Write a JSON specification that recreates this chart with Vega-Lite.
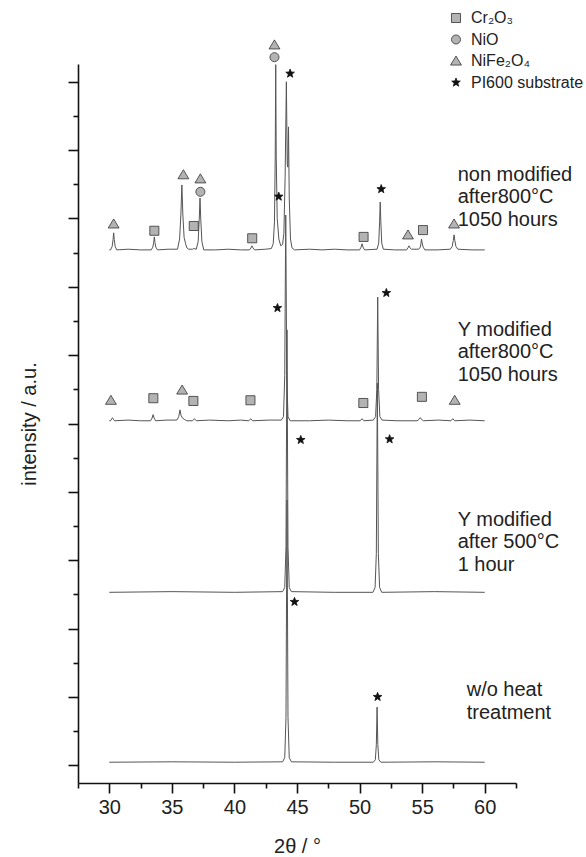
{
  "$schema": "https://vega.github.io/schema/vega-lite/v6.json",
  "width": 438,
  "height": 719,
  "autosize": {"type": "none"},
  "padding": {"left": 78, "top": 64, "right": 70, "bottom": 74},
  "background": "white",
  "config": {
    "view": {"stroke": null},
    "font": "Liberation Sans",
    "axis": {
      "domainColor": "#111", "domainWidth": 1.6, "tickColor": "#111", "tickWidth": 1.6,
      "grid": false, "labelFont": "Liberation Sans", "titleFont": "Liberation Sans",
      "labelFontSize": 20, "titleFontSize": 20, "titleFontWeight": "normal",
      "labelColor": "#222", "titleColor": "#222"
    }
  },
  "datasets": {
    "traces": [
      {"s":"a","x":30.0,"y":7.54},{"s":"a","x":30.1,"y":7.54},{"s":"a","x":30.23,"y":7.59},{"s":"a","x":30.3,"y":7.69},{"s":"a","x":30.35,"y":7.79},{"s":"a","x":30.4,"y":7.69},{"s":"a","x":30.47,"y":7.59},{"s":"a","x":30.6,"y":7.54},
      {"s":"a","x":31.5,"y":7.55},{"s":"a","x":32.5,"y":7.54},
      {"s":"a","x":33.35,"y":7.54},{"s":"a","x":33.48,"y":7.58},{"s":"a","x":33.55,"y":7.65},{"s":"a","x":33.6,"y":7.73},{"s":"a","x":33.65,"y":7.65},{"s":"a","x":33.72,"y":7.58},{"s":"a","x":33.85,"y":7.54},
      {"s":"a","x":34.7,"y":7.55},
      {"s":"a","x":35.45,"y":7.55},{"s":"a","x":35.62,"y":7.7},{"s":"a","x":35.72,"y":8.05},{"s":"a","x":35.8,"y":8.49},{"s":"a","x":35.88,"y":8.05},{"s":"a","x":35.98,"y":7.72},{"s":"a","x":36.1,"y":7.63},{"s":"a","x":36.2,"y":7.57},{"s":"a","x":36.35,"y":7.55},
      {"s":"a","x":36.65,"y":7.55},{"s":"a","x":36.75,"y":7.56},{"s":"a","x":36.95,"y":7.55},{"s":"a","x":37.1,"y":7.66},{"s":"a","x":37.19,"y":7.99},{"s":"a","x":37.25,"y":8.3},{"s":"a","x":37.31,"y":7.99},{"s":"a","x":37.4,"y":7.66},{"s":"a","x":37.55,"y":7.54},
      {"s":"a","x":38.5,"y":7.54},{"s":"a","x":39.5,"y":7.55},{"s":"a","x":40.5,"y":7.54},
      {"s":"a","x":41.2,"y":7.54},{"s":"a","x":41.32,"y":7.57},{"s":"a","x":41.4,"y":7.6},{"s":"a","x":41.48,"y":7.57},{"s":"a","x":41.6,"y":7.54},
      {"s":"a","x":42.5,"y":7.55},{"s":"a","x":42.95,"y":7.56},{"s":"a","x":43.1,"y":7.63},{"s":"a","x":43.2,"y":7.95},{"s":"a","x":43.26,"y":8.9},{"s":"a","x":43.3,"y":10.25},{"s":"a","x":43.34,"y":8.9},{"s":"a","x":43.42,"y":8.0},{"s":"a","x":43.55,"y":7.7},{"s":"a","x":43.7,"y":7.6},{"s":"a","x":43.85,"y":7.62},{"s":"a","x":43.95,"y":7.78},{"s":"a","x":44.05,"y":8.6},{"s":"a","x":44.15,"y":10.0},{"s":"a","x":44.22,"y":8.8},{"s":"a","x":44.27,"y":8.75},{"s":"a","x":44.32,"y":9.34},{"s":"a","x":44.38,"y":8.3},{"s":"a","x":44.48,"y":7.7},{"s":"a","x":44.6,"y":7.57},{"s":"a","x":44.8,"y":7.54},
      {"s":"a","x":46,"y":7.55},{"s":"a","x":47,"y":7.54},{"s":"a","x":48,"y":7.55},{"s":"a","x":49,"y":7.54},
      {"s":"a","x":50.0,"y":7.54},{"s":"a","x":50.12,"y":7.58},{"s":"a","x":50.2,"y":7.63},{"s":"a","x":50.28,"y":7.58},{"s":"a","x":50.4,"y":7.54},
      {"s":"a","x":51.4,"y":7.55},{"s":"a","x":51.53,"y":7.64},{"s":"a","x":51.6,"y":7.95},{"s":"a","x":51.65,"y":8.24},{"s":"a","x":51.7,"y":7.95},{"s":"a","x":51.77,"y":7.64},{"s":"a","x":51.9,"y":7.55},
      {"s":"a","x":52.8,"y":7.54},
      {"s":"a","x":53.75,"y":7.54},{"s":"a","x":53.87,"y":7.57},{"s":"a","x":53.95,"y":7.6},{"s":"a","x":54.03,"y":7.57},{"s":"a","x":54.15,"y":7.55},
      {"s":"a","x":54.72,"y":7.55},{"s":"a","x":54.85,"y":7.58},{"s":"a","x":54.91,"y":7.64},{"s":"a","x":54.95,"y":7.7},{"s":"a","x":55.0,"y":7.64},{"s":"a","x":55.08,"y":7.58},{"s":"a","x":55.22,"y":7.54},
      {"s":"a","x":56.2,"y":7.54},
      {"s":"a","x":57.25,"y":7.55},{"s":"a","x":57.4,"y":7.59},{"s":"a","x":57.49,"y":7.68},{"s":"a","x":57.55,"y":7.76},{"s":"a","x":57.61,"y":7.68},{"s":"a","x":57.7,"y":7.59},{"s":"a","x":57.85,"y":7.55},
      {"s":"a","x":59,"y":7.54},{"s":"a","x":60,"y":7.54},

      {"s":"b","x":30.0,"y":5.04},{"s":"b","x":30.1,"y":5.04},{"s":"b","x":30.2,"y":5.07},{"s":"b","x":30.25,"y":5.085},{"s":"b","x":30.3,"y":5.07},{"s":"b","x":30.42,"y":5.04},
      {"s":"b","x":31.5,"y":5.05},{"s":"b","x":32.5,"y":5.04},
      {"s":"b","x":33.3,"y":5.04},{"s":"b","x":33.42,"y":5.08},{"s":"b","x":33.5,"y":5.13},{"s":"b","x":33.58,"y":5.08},{"s":"b","x":33.7,"y":5.04},
      {"s":"b","x":34.6,"y":5.05},
      {"s":"b","x":35.4,"y":5.05},{"s":"b","x":35.55,"y":5.1},{"s":"b","x":35.65,"y":5.2},{"s":"b","x":35.73,"y":5.12},{"s":"b","x":35.85,"y":5.08},{"s":"b","x":36.0,"y":5.06},{"s":"b","x":36.2,"y":5.04},
      {"s":"b","x":36.65,"y":5.04},{"s":"b","x":36.8,"y":5.07},{"s":"b","x":36.95,"y":5.04},
      {"s":"b","x":38,"y":5.05},{"s":"b","x":39.5,"y":5.04},{"s":"b","x":40.5,"y":5.05},
      {"s":"b","x":41.15,"y":5.04},{"s":"b","x":41.3,"y":5.07},{"s":"b","x":41.45,"y":5.04},
      {"s":"b","x":42.8,"y":5.05},
      {"s":"b","x":43.75,"y":5.05},{"s":"b","x":43.92,"y":5.1},{"s":"b","x":44.02,"y":5.7},{"s":"b","x":44.1,"y":8.05},{"s":"b","x":44.18,"y":5.7},{"s":"b","x":44.28,"y":5.1},{"s":"b","x":44.45,"y":5.04},
      {"s":"b","x":46,"y":5.04},{"s":"b","x":47.5,"y":5.05},{"s":"b","x":49,"y":5.04},
      {"s":"b","x":50.05,"y":5.04},{"s":"b","x":50.2,"y":5.07},{"s":"b","x":50.35,"y":5.04},
      {"s":"b","x":51.1,"y":5.05},{"s":"b","x":51.28,"y":5.1},{"s":"b","x":51.38,"y":5.5},{"s":"b","x":51.45,"y":6.85},{"s":"b","x":51.52,"y":5.5},{"s":"b","x":51.62,"y":5.1},{"s":"b","x":51.8,"y":5.05},
      {"s":"b","x":53,"y":5.04},
      {"s":"b","x":54.6,"y":5.04},{"s":"b","x":54.75,"y":5.06},{"s":"b","x":54.85,"y":5.085},{"s":"b","x":54.95,"y":5.06},{"s":"b","x":55.1,"y":5.04},
      {"s":"b","x":56.3,"y":5.05},
      {"s":"b","x":57.3,"y":5.04},{"s":"b","x":57.45,"y":5.07},{"s":"b","x":57.6,"y":5.04},
      {"s":"b","x":58.8,"y":5.05},{"s":"b","x":60,"y":5.04},

      {"s":"c","x":30,"y":2.53},{"s":"c","x":35,"y":2.54},{"s":"c","x":40,"y":2.53},{"s":"c","x":43.85,"y":2.54},{"s":"c","x":44.02,"y":2.6},{"s":"c","x":44.12,"y":3.2},{"s":"c","x":44.2,"y":6.37},{"s":"c","x":44.28,"y":3.2},{"s":"c","x":44.38,"y":2.6},{"s":"c","x":44.55,"y":2.54},{"s":"c","x":48,"y":2.53},{"s":"c","x":51.07,"y":2.53},{"s":"c","x":51.24,"y":2.6},{"s":"c","x":51.34,"y":3.1},{"s":"c","x":51.42,"y":5.59},{"s":"c","x":51.5,"y":3.1},{"s":"c","x":51.6,"y":2.6},{"s":"c","x":51.77,"y":2.53},{"s":"c","x":56,"y":2.54},{"s":"c","x":60,"y":2.53},

      {"s":"d","x":30,"y":0.044},{"s":"d","x":35,"y":0.05},{"s":"d","x":40,"y":0.044},{"s":"d","x":43.85,"y":0.05},{"s":"d","x":44.02,"y":0.11},{"s":"d","x":44.12,"y":0.7},{"s":"d","x":44.2,"y":3.88},{"s":"d","x":44.28,"y":0.7},{"s":"d","x":44.38,"y":0.11},{"s":"d","x":44.55,"y":0.05},{"s":"d","x":48,"y":0.044},{"s":"d","x":51.1,"y":0.044},{"s":"d","x":51.26,"y":0.08},{"s":"d","x":51.34,"y":0.3},{"s":"d","x":51.4,"y":0.85},{"s":"d","x":51.46,"y":0.3},{"s":"d","x":51.54,"y":0.08},{"s":"d","x":51.7,"y":0.044},{"s":"d","x":56,"y":0.05},{"s":"d","x":60,"y":0.044}
    ],
    "markers": [
      {"p":"NiFe₂O₄","x":30.35,"y":7.92},
      {"p":"Cr₂O₃","x":33.6,"y":7.82},
      {"p":"NiFe₂O₄","x":35.92,"y":8.64},
      {"p":"Cr₂O₃","x":36.75,"y":7.89},
      {"p":"NiO","x":37.28,"y":8.39},
      {"p":"NiFe₂O₄","x":37.28,"y":8.58},
      {"p":"Cr₂O₃","x":41.42,"y":7.71},
      {"p":"NiO","x":43.2,"y":10.36},
      {"p":"NiFe₂O₄","x":43.2,"y":10.54},
      {"p":"PI600 substrate","x":44.45,"y":10.12},
      {"p":"PI600 substrate","x":43.54,"y":8.32},
      {"p":"Cr₂O₃","x":50.32,"y":7.73},
      {"p":"PI600 substrate","x":51.73,"y":8.43},
      {"p":"NiFe₂O₄","x":53.87,"y":7.76},
      {"p":"Cr₂O₃","x":55.07,"y":7.83},
      {"p":"NiFe₂O₄","x":57.55,"y":7.92},
      {"p":"NiFe₂O₄","x":30.13,"y":5.34},
      {"p":"Cr₂O₃","x":33.52,"y":5.37},
      {"p":"NiFe₂O₄","x":35.82,"y":5.49},
      {"p":"Cr₂O₃","x":36.72,"y":5.33},
      {"p":"Cr₂O₃","x":41.28,"y":5.34},
      {"p":"Cr₂O₃","x":50.3,"y":5.3},
      {"p":"Cr₂O₃","x":54.98,"y":5.39},
      {"p":"NiFe₂O₄","x":57.6,"y":5.34},
      {"p":"PI600 substrate","x":43.44,"y":6.69},
      {"p":"PI600 substrate","x":52.14,"y":6.91},
      {"p":"PI600 substrate","x":45.3,"y":4.76},
      {"p":"PI600 substrate","x":52.4,"y":4.77},
      {"p":"PI600 substrate","x":44.8,"y":2.39},
      {"p":"PI600 substrate","x":51.44,"y":1.0}
    ],
    "labels": [
      {"x":57.84,"y":8.64,"t":"non modified\nafter800°C\n1050 hours"},
      {"x":57.84,"y":6.37,"t":"Y modified\nafter800°C\n1050 hours"},
      {"x":57.84,"y":3.59,"t":"Y modified\nafter 500°C\n1 hour"},
      {"x":58.56,"y":1.1,"t":"w/o heat\ntreatment"}
    ]
  },
  "encoding": {
    "x": {
      "field": "x", "type": "quantitative",
      "scale": {"domain": [27.5, 62.5], "nice": false, "zero": false},
      "axis": {
        "title": "2θ / °",
        "values": [27.5,30,32.5,35,37.5,40,42.5,45,47.5,50,52.5,55,57.5,60,62.5],
        "labelExpr": "datum.value % 5 === 0 ? datum.label : ''",
        "tickSize": {"condition": {"test": "datum.value % 5 === 0", "value": 10}, "value": 5},
        "labelPadding": 4, "titlePadding": 19
      }
    },
    "y": {
      "field": "y", "type": "quantitative",
      "scale": {"domain": [-0.26, 10.26], "nice": false, "zero": false},
      "axis": {
        "title": "intensity / a.u.",
        "labels": false,
        "values": [0,0.5,1,1.5,2,2.5,3,3.5,4,4.5,5,5.5,6,6.5,7,7.5,8,8.5,9,9.5,10],
        "tickSize": {"condition": {"test": "datum.value % 1 === 0", "value": 10}, "value": 5},
        "titlePadding": 28
      }
    }
  },
  "layer": [
    {
      "data": {"name": "traces"},
      "mark": {"type": "line", "color": "#555", "strokeWidth": 1, "clip": true},
      "encoding": {"detail": {"field": "s", "type": "nominal"}}
    },
    {
      "data": {"name": "markers"},
      "mark": {"type": "point", "filled": true, "size": 82, "stroke": "#333", "strokeWidth": 0.8, "opacity": 1},
      "encoding": {
        "shape": {
          "field": "p", "type": "nominal",
          "scale": {"domain": ["Cr₂O₃","NiO","NiFe₂O₄","PI600 substrate"], "range": ["square","circle","M0,-1.1L1.2,0.9L-1.2,0.9Z","M0,-1L0.247,-0.34L0.951,-0.309L0.399,0.13L0.588,0.809L0,0.42L-0.588,0.809L-0.399,0.13L-0.951,-0.309L-0.247,-0.34Z"]},
          "legend": {"orient": "none", "legendX": 370, "legendY": -54, "title": null, "labelFontSize": 16, "labelFont": "Liberation Sans", "labelColor": "#222", "symbolSize": 82, "rowPadding": 5.5, "labelOffset": 7, "padding": 0, "symbolStrokeColor": "#333", "symbolStrokeWidth": 0.8}
        },
        "fill": {
          "field": "p", "type": "nominal",
          "scale": {"domain": ["Cr₂O₃","NiO","NiFe₂O₄","PI600 substrate"], "range": ["#b3b3b3","#b3b3b3","#b3b3b3","#111111"]},
          "legend": {"orient": "none", "legendX": 370, "legendY": -54, "title": null, "labelFontSize": 16, "labelFont": "Liberation Sans", "labelColor": "#222", "symbolSize": 82, "rowPadding": 5.5, "labelOffset": 7, "padding": 0, "symbolStrokeColor": "#333", "symbolStrokeWidth": 0.8}
        },
        "stroke": {
          "field": "p", "type": "nominal",
          "scale": {"domain": ["Cr₂O₃","NiO","NiFe₂O₄","PI600 substrate"], "range": ["#333333","#333333","#333333","#111111"]},
          "legend": {"orient": "none", "legendX": 370, "legendY": -54, "title": null, "labelFontSize": 16, "labelFont": "Liberation Sans", "labelColor": "#222", "symbolSize": 82, "rowPadding": 5.5, "labelOffset": 7, "padding": 0, "symbolStrokeWidth": 0.8}
        }
      }
    },
    {
      "data": {"name": "labels"},
      "mark": {"type": "text", "align": "left", "baseline": "middle", "fontSize": 20, "lineHeight": 22.5, "lineBreak": "\n", "color": "#222", "font": "Liberation Sans"},
      "encoding": {"text": {"field": "t", "type": "nominal"}}
    }
  ]
}
